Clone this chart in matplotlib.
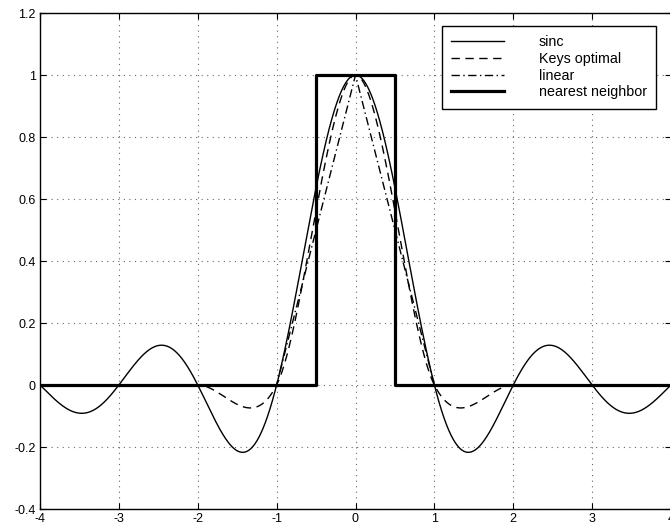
import numpy as np
import matplotlib.pyplot as plt

plt.rcParams['font.family'] = ['Liberation Sans', 'DejaVu Sans']

# interpolation kernels shown in the chart
x_min, x_max = -4, 4
keys_a = -0.5          # Keys "optimal" cubic parameter
box_half_width = 0.5   # nearest neighbor support
labels = ['sinc', 'Keys optimal', 'linear', 'nearest neighbor']
xticks = [-4, -3, -2, -1, 0, 1, 2, 3, 4]
yticks = [-0.4, -0.2, 0, 0.2, 0.4, 0.6, 0.8, 1, 1.2]
yticklabels = ['-0.4', '-0.2', '0', '0.2', '0.4', '0.6', '0.8', '1', '1.2']

x = np.linspace(x_min, x_max, 2001)
ax_abs = np.abs(x)

sinc = np.sinc(x)
keys = np.where(ax_abs <= 1,
                (keys_a + 2) * ax_abs**3 - (keys_a + 3) * ax_abs**2 + 1,
                np.where(ax_abs < 2,
                         keys_a * ax_abs**3 - 5 * keys_a * ax_abs**2 + 8 * keys_a * ax_abs - 4 * keys_a,
                         0.0))
linear = np.clip(1 - ax_abs, 0, None)
nn_x = [x_min, -box_half_width, -box_half_width, box_half_width, box_half_width, x_max]
nn_y = [0, 0, 1, 1, 0, 0]

fig = plt.figure(figsize=(6.7, 5.31), dpi=100)
ax = fig.add_axes([40 / 670, 22 / 531, 631 / 670, 496 / 531])

ax.plot(x, sinc, 'k-', lw=1.0, label=labels[0])
ax.plot(x, keys, color='k', lw=1.0, linestyle=(0, (6, 4)), label=labels[1])
ax.plot(x, linear, color='k', lw=1.0, linestyle=(0, (6, 2.5, 1, 2.5)), label=labels[2])
ax.plot(nn_x, nn_y, 'k-', lw=2.3, label=labels[3])

ax.set_xlim(x_min, x_max)
ax.set_ylim(-0.4, 1.2)
ax.set_xticks(xticks)
ax.set_xticklabels([str(t) for t in xticks])
ax.set_yticks(yticks)
ax.set_yticklabels(yticklabels)
ax.tick_params(direction='in', top=True, right=True, labelsize=9, length=4, pad=3)
ax.grid(True, linestyle=(0, (1, 4)), color='0.4', linewidth=0.8)
for s in ax.spines.values():
    s.set_linewidth(1.0)

leg = ax.legend(loc='upper right', bbox_to_anchor=(616 / 631, (509 - 26) / 496),
                fontsize=10.3, frameon=True, fancybox=False, edgecolor='k', framealpha=1,
                handlelength=3.7, handletextpad=2.4, labelspacing=0.19, borderpad=0.65,
                borderaxespad=0)
leg.get_frame().set_linewidth(1.0)

fig.savefig('out.png', dpi=100)
